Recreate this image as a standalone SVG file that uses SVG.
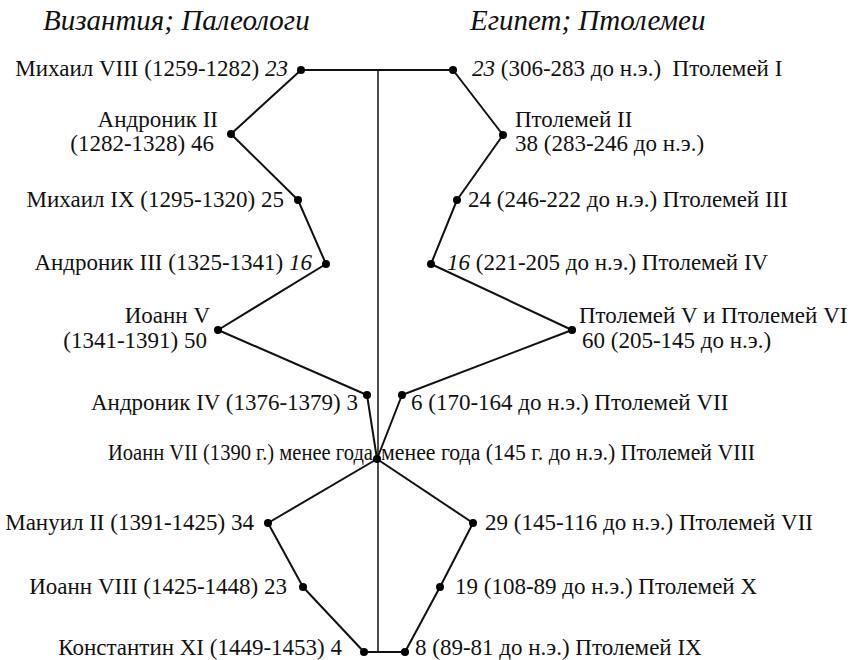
<svg xmlns="http://www.w3.org/2000/svg" width="850" height="660" viewBox="0 0 850 660">
<style>
text{font-family:"Liberation Serif","Times New Roman",serif;font-size:23px;fill:#111;white-space:pre}
.h{font-size:29px;font-style:italic}
.l{text-anchor:end}
.i{font-style:italic}
.c{fill:none;stroke:#111;stroke-width:2;stroke-linejoin:round}
.v{stroke:#111;stroke-width:1.5}
circle{fill:#000}
</style>
<rect width="850" height="660" fill="#fff"/>
<text class="h" x="43" y="30">Византия; Палеологи</text>
<text class="h" x="470" y="30">Египет; Птолемеи</text>
<g id="connectors">
<line class="v" x1="378" y1="70" x2="378" y2="652"/>
<polyline class="c" points="301,70 453,70"/>
<polyline class="c" points="364,652 405,652"/>
<polyline class="c" points="301,70 231,134 298,200 326,264 218,330 367,395 377,459 268,523 303,587 364,652"/>
<polyline class="c" points="453,70 503,135 457,200 431,264 572,330 402,395 377,459 473,523 440,587 405,652"/>
</g>
<g id="mikhail8"><circle cx="301" cy="70" r="4"/><text class="l" x="288" y="76">Михаил VIII (1259-1282) <tspan class="i">23</tspan></text></g>
<g id="andronik2"><circle cx="231" cy="134" r="4"/><text class="l" x="218" y="127">Андроник II</text><text class="l" x="214" y="151">(1282-1328) 46</text></g>
<g id="mikhail9"><circle cx="298" cy="200" r="4"/><text class="l" x="284" y="207">Михаил IX (1295-1320) 25</text></g>
<g id="andronik3"><circle cx="326" cy="264" r="4"/><text class="l" x="312" y="270">Андроник III (1325-1341) <tspan class="i">16</tspan></text></g>
<g id="ioann5"><circle cx="218" cy="330" r="4"/><text class="l" x="210" y="323">Иоанн V</text><text class="l" x="207" y="348">(1341-1391) 50</text></g>
<g id="andronik4"><circle cx="367" cy="395" r="4"/><text class="l" x="358" y="410">Андроник IV (1376-1379) 3</text></g>
<g id="ioann7"><circle cx="377" cy="459" r="4"/><text x="108" y="460" textLength="265" lengthAdjust="spacingAndGlyphs">Иоанн VII (1390 г.) менее года</text></g>
<g id="manuil2"><circle cx="268" cy="523" r="4"/><text class="l" x="254" y="530">Мануил II (1391-1425) 34</text></g>
<g id="ioann8"><circle cx="303" cy="587" r="4"/><text class="l" x="287" y="594">Иоанн VIII (1425-1448) 23</text></g>
<g id="konstantin11"><circle cx="364" cy="652" r="4"/><text class="l" x="342" y="655">Константин XI (1449-1453) 4</text></g>
<g id="ptolemy1"><circle cx="453" cy="70" r="4"/><text x="472" y="76"><tspan class="i">23</tspan> (306-283 до н.э.)  Птолемей I</text></g>
<g id="ptolemy2"><circle cx="503" cy="135" r="4"/><text x="515" y="127">Птолемей II</text><text x="515" y="151">38 (283-246 до н.э.)</text></g>
<g id="ptolemy3"><circle cx="457" cy="200" r="4"/><text x="468" y="207">24 (246-222 до н.э.) Птолемей III</text></g>
<g id="ptolemy4"><circle cx="431" cy="264" r="4"/><text x="447" y="270"><tspan class="i">16</tspan> (221-205 до н.э.) Птолемей IV</text></g>
<g id="ptolemy5_6"><circle cx="572" cy="330" r="4"/><text x="579" y="323">Птолемей V и Птолемей VI</text><text x="582" y="348">60 (205-145 до н.э.)</text></g>
<g id="ptolemy7a"><circle cx="402" cy="395" r="4"/><text x="411" y="410">6 (170-164 до н.э.) Птолемей VII</text></g>
<g id="ptolemy8"><text x="381" y="460" textLength="374" lengthAdjust="spacingAndGlyphs">менее года (145 г. до н.э.) Птолемей VIII</text></g>
<g id="ptolemy7b"><circle cx="473" cy="523" r="4"/><text x="485" y="530">29 (145-116 до н.э.) Птолемей VII</text></g>
<g id="ptolemy10"><circle cx="440" cy="587" r="4"/><text x="455" y="594">19 (108-89 до н.э.) Птолемей X</text></g>
<g id="ptolemy9"><circle cx="405" cy="652" r="4"/><text x="415" y="655">8 (89-81 до н.э.) Птолемей IX</text></g>
</svg>
